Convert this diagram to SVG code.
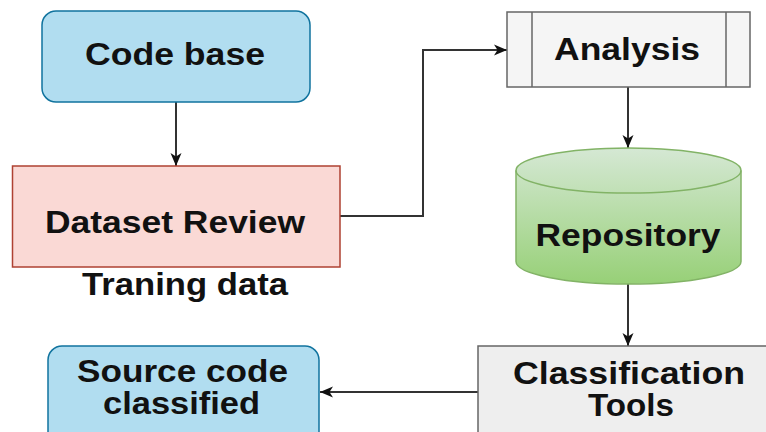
<svg xmlns="http://www.w3.org/2000/svg" width="766" height="432" viewBox="0 0 766 432">
<style>
  .lbl { font-family: "Liberation Sans", Arial, sans-serif; font-weight: bold; font-size: 31px; fill: #111; text-anchor: middle; }
  .conn { fill: none; stroke: #333; stroke-width: 2; }
  .blue { fill: #b1ddf0; stroke: #10739e; stroke-width: 1.5; }
  .gray { fill: #f5f5f5; stroke: #666; stroke-width: 1.5; }
</style>
<defs>
  <marker id="arr" markerUnits="userSpaceOnUse" markerWidth="14" markerHeight="12" refX="13" refY="6" orient="auto">
    <path d="M0,0.5 L13,6 L0,11.5 L3.5,6 Z" fill="#111"/>
  </marker>
  <linearGradient id="grn" x1="0" y1="0" x2="0" y2="1">
    <stop offset="0" stop-color="#d5e8d4"/>
    <stop offset="1" stop-color="#97d077"/>
  </linearGradient>
</defs>

<g id="connectors">
  <line class="conn" x1="176" y1="102" x2="176" y2="166" marker-end="url(#arr)"/>
  <path class="conn" d="M340,216 H423 V50 H507" marker-end="url(#arr)"/>
  <line class="conn" x1="628" y1="87" x2="628" y2="148" marker-end="url(#arr)"/>
  <line class="conn" x1="628" y1="284" x2="628" y2="346" marker-end="url(#arr)"/>
  <line class="conn" x1="478" y1="392" x2="320" y2="392" marker-end="url(#arr)"/>
</g>

<g id="code-base">
  <rect class="blue" x="42" y="11" width="268" height="91" rx="14"/>
  <text class="lbl" x="175" y="65" textLength="180" lengthAdjust="spacingAndGlyphs">Code base</text>
</g>

<g id="dataset-review">
  <rect x="12.5" y="166" width="327.5" height="101" fill="#fad9d5" stroke="#ae4132" stroke-width="1.5"/>
  <text class="lbl" x="175" y="233" textLength="260" lengthAdjust="spacingAndGlyphs">Dataset Review</text>
</g>

<g id="training-data">
  <text class="lbl" x="185" y="295" textLength="206" lengthAdjust="spacingAndGlyphs">Traning data</text>
</g>

<g id="analysis">
  <rect class="gray" x="507" y="12" width="243" height="75"/>
  <line x1="532" y1="12" x2="532" y2="87" stroke="#666" stroke-width="1.5"/>
  <line x1="726" y1="12" x2="726" y2="87" stroke="#666" stroke-width="1.5"/>
  <text class="lbl" x="627" y="60" textLength="146" lengthAdjust="spacingAndGlyphs">Analysis</text>
</g>

<g id="repository">
  <path d="M516,170.5 A112.5,22.5 0 0 1 741,170.5 V261.5 A112.5,22.5 0 0 1 516,261.5 Z" fill="url(#grn)" stroke="#82b366" stroke-width="1.5"/>
  <path d="M516,170.5 A112.5,22.5 0 0 0 741,170.5" fill="none" stroke="#82b366" stroke-width="1.5"/>
  <text class="lbl" x="628" y="246" textLength="185" lengthAdjust="spacingAndGlyphs">Repository</text>
</g>

<g id="classification-tools">
  <rect x="478" y="346" width="300" height="100" fill="#eeeeee" stroke="#666" stroke-width="1.5"/>
  <text class="lbl" x="629" y="384" textLength="232" lengthAdjust="spacingAndGlyphs">Classification</text>
  <text class="lbl" x="631" y="416" textLength="86" lengthAdjust="spacingAndGlyphs">Tools</text>
</g>

<g id="source-code-classified">
  <rect class="blue" x="48" y="346" width="271" height="100" rx="14"/>
  <text class="lbl" x="182.5" y="382" textLength="211" lengthAdjust="spacingAndGlyphs">Source code</text>
  <text class="lbl" x="181.5" y="414" textLength="157" lengthAdjust="spacingAndGlyphs">classified</text>
</g>
</svg>
